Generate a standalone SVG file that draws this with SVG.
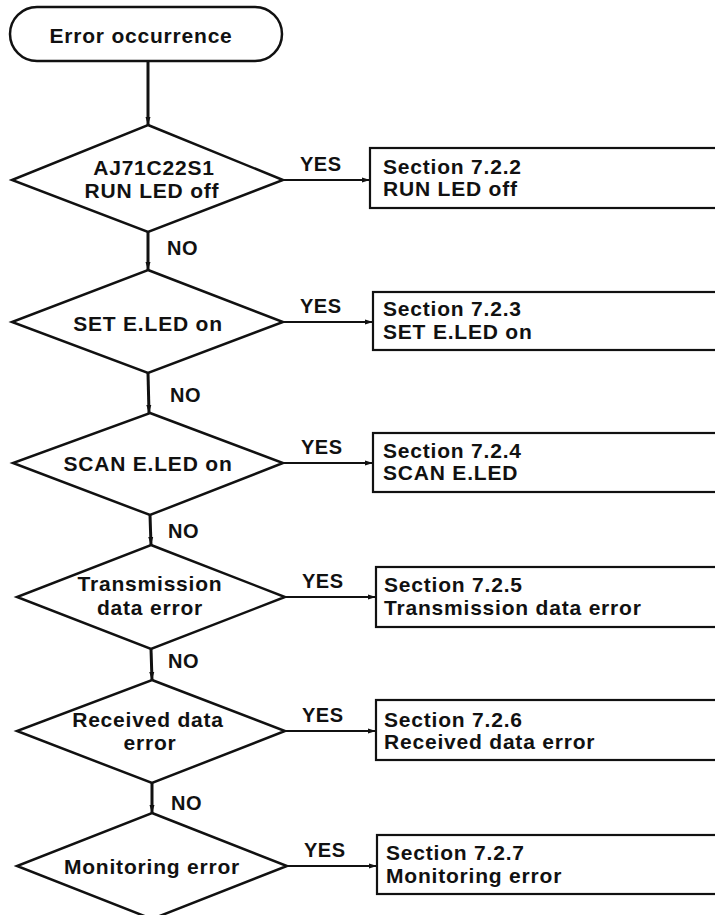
<svg xmlns="http://www.w3.org/2000/svg" width="715" height="915" viewBox="0 0 715 915">
<style>
text{font-family:"Liberation Sans",Arial,sans-serif;font-weight:bold;fill:#111;}
.t{font-size:21px;letter-spacing:0.8px;}
.c{text-anchor:middle;}
.lbl{font-size:20px;letter-spacing:0.5px;}
.shape{fill:#fff;stroke:#111;stroke-width:2.5;stroke-linejoin:miter;}
.box{fill:#fff;stroke:#111;stroke-width:2.2;}
.v{stroke:#111;stroke-width:3;fill:none;}
.h{stroke:#111;stroke-width:1.8;fill:none;}
</style>
<defs>
<marker id="ah" viewBox="0 0 8 6" refX="8" refY="3" markerWidth="8" markerHeight="6" markerUnits="userSpaceOnUse" orient="auto">
<path d="M0,0.5 L8,3 L0,5.5 Z" fill="#111"/>
</marker>
</defs>
<rect width="715" height="915" fill="#fff"/>
<g id="connectors">
<line class="v" x1="148" y1="61" x2="148" y2="125" marker-end="url(#ah)"/>
<line class="v" x1="148" y1="232" x2="148" y2="270" marker-end="url(#ah)"/>
<line class="v" x1="148" y1="373" x2="149" y2="413" marker-end="url(#ah)"/>
<line class="v" x1="150" y1="515" x2="151" y2="545" marker-end="url(#ah)"/>
<line class="v" x1="151" y1="649" x2="152" y2="680" marker-end="url(#ah)"/>
<line class="v" x1="152" y1="783" x2="152" y2="813" marker-end="url(#ah)"/>
<line class="h" x1="283" y1="180" x2="370" y2="180" marker-end="url(#ah)"/>
<line class="h" x1="283" y1="322" x2="373" y2="322" marker-end="url(#ah)"/>
<line class="h" x1="283" y1="463" x2="373" y2="463" marker-end="url(#ah)"/>
<line class="h" x1="285" y1="597" x2="376" y2="597" marker-end="url(#ah)"/>
<line class="h" x1="285" y1="731" x2="376" y2="731" marker-end="url(#ah)"/>
<line class="h" x1="287" y1="866" x2="377" y2="866" marker-end="url(#ah)"/>
<text class="lbl" x="300" y="171">YES</text>
<text class="lbl" x="300" y="313">YES</text>
<text class="lbl" x="301" y="454">YES</text>
<text class="lbl" x="302" y="588">YES</text>
<text class="lbl" x="302" y="722">YES</text>
<text class="lbl" x="304" y="857">YES</text>
<text class="lbl" x="167" y="255">NO</text>
<text class="lbl" x="170" y="402">NO</text>
<text class="lbl" x="168" y="538">NO</text>
<text class="lbl" x="168" y="668">NO</text>
<text class="lbl" x="171" y="810">NO</text>
</g>
<g id="start">
<rect class="shape" x="10" y="7" width="272" height="54" rx="27" ry="27"/>
<text class="t c" x="141" y="43">Error occurrence</text>
</g>
<g id="d1">
<polygon class="shape" points="148,125 283,180 148,232 12,180"/>
<text class="t c" x="154" y="175">AJ71C22S1</text>
<text class="t c" x="152" y="198">RUN LED off</text>
</g>
<g id="d2">
<polygon class="shape" points="148,270 283,322 148,373 12,322"/>
<text class="t c" x="148" y="331">SET E.LED on</text>
</g>
<g id="d3">
<polygon class="shape" points="150,413 283,463 150,515 13,463"/>
<text class="t c" x="148" y="471">SCAN E.LED on</text>
</g>
<g id="d4">
<polygon class="shape" points="151,545 285,597 151,649 17,597"/>
<text class="t c" x="150" y="591">Transmission</text>
<text class="t c" x="150" y="615">data error</text>
</g>
<g id="d5">
<polygon class="shape" points="152,680 285,731 152,783 17,731"/>
<text class="t c" x="148" y="727">Received data</text>
<text class="t c" x="150" y="750">error</text>
</g>
<g id="d6">
<polygon class="shape" points="152,813 287,866 152,919 17,866"/>
<text class="t c" x="152" y="874">Monitoring error</text>
</g>
<g id="b1">
<rect class="box" x="370" y="148" width="400" height="60"/>
<text class="t" x="383" y="174">Section 7.2.2</text>
<text class="t" x="383" y="196">RUN LED off</text>
</g>
<g id="b2">
<rect class="box" x="373" y="292" width="400" height="58"/>
<text class="t" x="383" y="316">Section 7.2.3</text>
<text class="t" x="383" y="339">SET E.LED on</text>
</g>
<g id="b3">
<rect class="box" x="373" y="433" width="400" height="59"/>
<text class="t" x="383" y="458">Section 7.2.4</text>
<text class="t" x="383" y="480">SCAN E.LED</text>
</g>
<g id="b4">
<rect class="box" x="376" y="567" width="400" height="60"/>
<text class="t" x="384" y="592">Section 7.2.5</text>
<text class="t" x="384" y="615">Transmission data error</text>
</g>
<g id="b5">
<rect class="box" x="376" y="700" width="400" height="60"/>
<text class="t" x="384" y="727">Section 7.2.6</text>
<text class="t" x="384" y="749">Received data error</text>
</g>
<g id="b6">
<rect class="box" x="377" y="835" width="400" height="59"/>
<text class="t" x="386" y="860">Section 7.2.7</text>
<text class="t" x="386" y="883">Monitoring error</text>
</g>
</svg>
